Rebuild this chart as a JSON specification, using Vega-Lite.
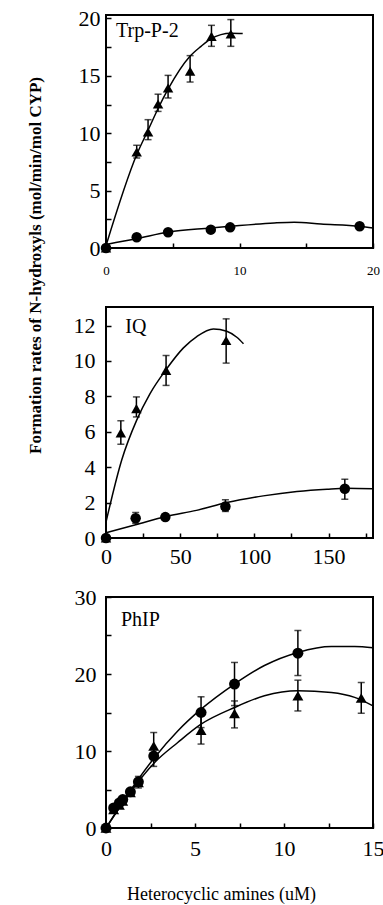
{
  "$schema": "https://vega.github.io/schema/vega-lite/v6.json",
  "background": "white",
  "padding": {"left": 24, "top": 6, "right": 5, "bottom": 3},
  "bounds": "flush",
  "spacing": 59,
  "config": {
    "font": "Liberation Serif",
    "view": {"stroke": "black", "strokeWidth": 2},
    "axis": {"domain": false, "grid": false, "tickColor": "black", "tickWidth": 1.5, "tickSize": -5, "labelColor": "black", "labelFont": "Liberation Serif", "titleColor": "black", "titleFont": "Liberation Serif", "labelFontSize": 22}
  },
  "datasets": {
    "trp_pts": [
      {"x": 0, "y": 0, "s": "triangle"},
      {"x": 2.3, "y": 8.36, "lo": 7.84, "hi": 8.95, "s": "triangle"},
      {"x": 3.15, "y": 10.1, "lo": 9.44, "hi": 11.18, "s": "triangle"},
      {"x": 3.9, "y": 12.54, "lo": 11.9, "hi": 13.4, "s": "triangle"},
      {"x": 4.65, "y": 13.94, "lo": 13.07, "hi": 15.04, "s": "triangle"},
      {"x": 6.3, "y": 15.4, "lo": 14.46, "hi": 16.76, "s": "triangle"},
      {"x": 7.9, "y": 18.44, "lo": 17.57, "hi": 19.4, "s": "triangle"},
      {"x": 9.35, "y": 18.64, "lo": 17.57, "hi": 19.9, "s": "triangle"},
      {"x": 0, "y": 0, "s": "circle"},
      {"x": 2.3, "y": 0.93, "s": "circle"},
      {"x": 4.65, "y": 1.37, "s": "circle"},
      {"x": 7.85, "y": 1.6, "s": "circle"},
      {"x": 9.3, "y": 1.8, "s": "circle"},
      {"x": 19.0, "y": 1.89, "s": "circle"}
    ],
    "trp_curve": [
      {"x": 0, "y": 0.2, "s": "triangle"},
      {"x": 2.32, "y": 8.19, "s": "triangle"},
      {"x": 3.17, "y": 10.31, "s": "triangle"},
      {"x": 3.92, "y": 12.2, "s": "triangle"},
      {"x": 4.67, "y": 13.88, "s": "triangle"},
      {"x": 6.29, "y": 16.7, "s": "triangle"},
      {"x": 7.12, "y": 17.57, "s": "triangle"},
      {"x": 7.87, "y": 18.24, "s": "triangle"},
      {"x": 8.61, "y": 18.59, "s": "triangle"},
      {"x": 9.36, "y": 18.7, "s": "triangle"},
      {"x": 10.24, "y": 18.68, "s": "triangle"},
      {"x": 0, "y": 0.3, "s": "circle"},
      {"x": 2.32, "y": 0.82, "s": "circle"},
      {"x": 4.67, "y": 1.4, "s": "circle"},
      {"x": 7.83, "y": 1.74, "s": "circle"},
      {"x": 9.31, "y": 1.89, "s": "circle"},
      {"x": 12.6, "y": 2.18, "s": "circle"},
      {"x": 14.1, "y": 2.24, "s": "circle"},
      {"x": 16.1, "y": 2.09, "s": "circle"},
      {"x": 19.03, "y": 1.89, "s": "circle"},
      {"x": 20, "y": 1.74, "s": "circle"}
    ],
    "iq_pts": [
      {"x": 0, "y": 0, "s": "triangle"},
      {"x": 10, "y": 5.94, "lo": 5.3, "hi": 6.62, "s": "triangle"},
      {"x": 20.5, "y": 7.31, "lo": 6.84, "hi": 7.97, "s": "triangle"},
      {"x": 40.5, "y": 9.47, "lo": 8.62, "hi": 10.31, "s": "triangle"},
      {"x": 81, "y": 11.16, "lo": 9.88, "hi": 12.38, "s": "triangle"},
      {"x": 0, "y": 0, "s": "circle"},
      {"x": 20, "y": 1.12, "lo": 0.84, "hi": 1.44, "s": "circle"},
      {"x": 40, "y": 1.18, "lo": 1.0, "hi": 1.35, "s": "circle"},
      {"x": 80.5, "y": 1.78, "lo": 1.5, "hi": 2.16, "s": "circle"},
      {"x": 161, "y": 2.78, "lo": 2.19, "hi": 3.32, "s": "circle"}
    ],
    "iq_curve": [
      {"x": 0, "y": 0.9, "s": "triangle"},
      {"x": 10.6, "y": 4.41, "s": "triangle"},
      {"x": 20.7, "y": 6.66, "s": "triangle"},
      {"x": 29.7, "y": 8.16, "s": "triangle"},
      {"x": 40.9, "y": 9.56, "s": "triangle"},
      {"x": 52.2, "y": 10.74, "s": "triangle"},
      {"x": 61.2, "y": 11.38, "s": "triangle"},
      {"x": 72.4, "y": 11.81, "s": "triangle"},
      {"x": 81.4, "y": 11.68, "s": "triangle"},
      {"x": 88.2, "y": 11.34, "s": "triangle"},
      {"x": 92.7, "y": 10.97, "s": "triangle"},
      {"x": 0, "y": 0.3, "s": "circle"},
      {"x": 20, "y": 0.75, "s": "circle"},
      {"x": 40.5, "y": 1.22, "s": "circle"},
      {"x": 61, "y": 1.56, "s": "circle"},
      {"x": 81.4, "y": 2.0, "s": "circle"},
      {"x": 106, "y": 2.38, "s": "circle"},
      {"x": 128.7, "y": 2.63, "s": "circle"},
      {"x": 149, "y": 2.76, "s": "circle"},
      {"x": 162, "y": 2.81, "s": "circle"},
      {"x": 180, "y": 2.78, "s": "circle"}
    ],
    "phip_pts": [
      {"x": 0, "y": 0, "s": "circle"},
      {"x": 0.43, "y": 2.6, "s": "circle"},
      {"x": 0.75, "y": 3.26, "s": "circle"},
      {"x": 0.94, "y": 3.7, "s": "circle"},
      {"x": 1.37, "y": 4.7, "s": "circle"},
      {"x": 1.82, "y": 6.0, "lo": 5.2, "hi": 6.7, "s": "circle"},
      {"x": 2.68, "y": 9.35, "lo": 8.0, "hi": 10.2, "s": "circle"},
      {"x": 5.34, "y": 15.0, "lo": 13.04, "hi": 17.04, "s": "circle"},
      {"x": 7.22, "y": 18.7, "lo": 15.9, "hi": 21.5, "s": "circle"},
      {"x": 10.78, "y": 22.7, "lo": 19.8, "hi": 25.65, "s": "circle"},
      {"x": 0, "y": 0, "s": "triangle"},
      {"x": 0.43, "y": 2.4, "s": "triangle"},
      {"x": 0.75, "y": 3.0, "s": "triangle"},
      {"x": 0.94, "y": 3.5, "s": "triangle"},
      {"x": 1.37, "y": 4.6, "s": "triangle"},
      {"x": 1.82, "y": 5.9, "s": "triangle"},
      {"x": 2.68, "y": 10.65, "lo": 8.9, "hi": 12.4, "s": "triangle"},
      {"x": 5.34, "y": 12.7, "lo": 10.9, "hi": 14.8, "s": "triangle"},
      {"x": 7.22, "y": 14.87, "lo": 13.0, "hi": 16.5, "s": "triangle"},
      {"x": 10.78, "y": 17.17, "lo": 15.2, "hi": 19.2, "s": "triangle"},
      {"x": 14.34, "y": 16.87, "lo": 14.9, "hi": 18.9, "s": "triangle"}
    ],
    "phip_curve": [
      {"x": 0, "y": 0, "s": "circle"},
      {"x": 1.41, "y": 5.0, "s": "circle"},
      {"x": 2.72, "y": 9.13, "s": "circle"},
      {"x": 4.03, "y": 12.6, "s": "circle"},
      {"x": 5.34, "y": 15.43, "s": "circle"},
      {"x": 7.22, "y": 18.7, "s": "circle"},
      {"x": 8.9, "y": 21.1, "s": "circle"},
      {"x": 10.78, "y": 22.8, "s": "circle"},
      {"x": 12.66, "y": 23.57, "s": "circle"},
      {"x": 13.97, "y": 23.57, "s": "circle"},
      {"x": 15, "y": 23.4, "s": "circle"},
      {"x": 0, "y": 0, "s": "triangle"},
      {"x": 1.41, "y": 4.78, "s": "triangle"},
      {"x": 2.72, "y": 8.48, "s": "triangle"},
      {"x": 4.03, "y": 11.1, "s": "triangle"},
      {"x": 5.34, "y": 13.48, "s": "triangle"},
      {"x": 7.22, "y": 15.65, "s": "triangle"},
      {"x": 8.9, "y": 17.17, "s": "triangle"},
      {"x": 10.78, "y": 17.83, "s": "triangle"},
      {"x": 12.66, "y": 17.6, "s": "triangle"},
      {"x": 13.97, "y": 16.96, "s": "triangle"},
      {"x": 15, "y": 15.87, "s": "triangle"}
    ]
  },
  "vconcat": [
    {
      "width": 267, "height": 233,
      "encoding": {
        "x": {"field": "x", "type": "quantitative", "scale": {"domain": [0, 20], "nice": false, "zero": false},
          "axis": {"title": null, "values": [0, 5, 10, 15, 20], "labelExpr": "datum.value % 10 === 0 ? datum.label : ''", "labelFontSize": 13, "labelPadding": 21, "labelFlush": false}},
        "y": {"field": "y", "type": "quantitative", "scale": {"domain": [0, 20.3], "nice": false, "zero": false},
          "axis": {"title": null, "values": [0, 2.5, 5, 7.5, 10, 12.5, 15, 17.5, 20], "labelExpr": "datum.value % 5 === 0 ? datum.label : ''", "labelPadding": 11}}
      },
      "layer": [
        {"data": {"name": "trp_curve"}, "mark": {"type": "line", "interpolate": "monotone", "color": "black", "strokeWidth": 1.5}, "encoding": {"detail": {"field": "s"}}},
        {"data": {"name": "trp_pts"}, "transform": [{"filter": "datum.lo != null"}], "mark": {"type": "errorbar", "color": "black", "thickness": 1.5, "ticks": {"size": 7}}, "encoding": {"y": {"field": "lo", "type": "quantitative"}, "y2": {"field": "hi"}}},
        {"data": {"name": "trp_pts"}, "mark": {"type": "point", "filled": true, "color": "black", "opacity": 1, "size": 110}, "encoding": {"shape": {"field": "s", "type": "nominal", "scale": {"domain": ["triangle", "circle"], "range": ["triangle-up", "circle"]}, "legend": null}}},
        {"data": {"values": [{"x": 0.75, "y": 18.9, "label": "Trp-P-2"}]}, "mark": {"type": "text", "align": "left", "baseline": "middle", "fontSize": 20, "color": "black"}, "encoding": {"text": {"field": "label"}}}
      ]
    },
    {
      "width": 267, "height": 231,
      "encoding": {
        "x": {"field": "x", "type": "quantitative", "scale": {"domain": [0, 180], "nice": false, "zero": false},
          "axis": {"title": null, "values": [0, 25, 50, 75, 100, 125, 150, 175], "labelExpr": "datum.value % 50 === 0 ? datum.label : ''", "labelPadding": 13, "labelFlush": false}},
        "y": {"field": "y", "type": "quantitative", "scale": {"domain": [0, 13.05], "nice": false, "zero": false},
          "axis": {"title": "Formation rates of N-hydroxyls (mol/min/mol CYP)", "values": [0, 2, 4, 6, 8, 10, 12], "labelPadding": 16,
            "titleFontSize": 17, "titleFontWeight": "bold", "titleAngle": 270, "titleX": -66, "titleY": -42, "titleBaseline": "alphabetic", "titleAlign": "center"}}
      },
      "layer": [
        {"data": {"name": "iq_curve"}, "mark": {"type": "line", "interpolate": "monotone", "color": "black", "strokeWidth": 1.5}, "encoding": {"detail": {"field": "s"}}},
        {"data": {"name": "iq_pts"}, "transform": [{"filter": "datum.lo != null"}], "mark": {"type": "errorbar", "color": "black", "thickness": 1.5, "ticks": {"size": 7}}, "encoding": {"y": {"field": "lo", "type": "quantitative"}, "y2": {"field": "hi"}}},
        {"data": {"name": "iq_pts"}, "mark": {"type": "point", "filled": true, "color": "black", "opacity": 1, "size": 110}, "encoding": {"shape": {"field": "s", "type": "nominal", "scale": {"domain": ["triangle", "circle"], "range": ["triangle-up", "circle"]}, "legend": null}}},
        {"data": {"values": [{"x": 13, "y": 11.9, "label": "IQ"}]}, "mark": {"type": "text", "align": "left", "baseline": "middle", "fontSize": 20, "color": "black"}, "encoding": {"text": {"field": "label"}}}
      ]
    },
    {
      "width": 267, "height": 231,
      "encoding": {
        "x": {"field": "x", "type": "quantitative", "scale": {"domain": [0, 15], "nice": false, "zero": false},
          "axis": {"title": "Heterocyclic amines (uM)", "values": [0, 2.5, 5, 7.5, 10, 12.5, 15], "labelExpr": "datum.value % 5 === 0 ? datum.label : ''", "labelPadding": 15, "labelFlush": false,
            "titleFontSize": 18, "titleFontWeight": "normal", "titleX": 115, "titleY": 66, "titleBaseline": "middle", "titleAlign": "center"}},
        "y": {"field": "y", "type": "quantitative", "scale": {"domain": [0, 30], "nice": false, "zero": false},
          "axis": {"title": null, "values": [0, 5, 10, 15, 20, 25, 30], "labelExpr": "datum.value % 10 === 0 ? datum.label : ''", "labelPadding": 15}}
      },
      "layer": [
        {"data": {"name": "phip_curve"}, "mark": {"type": "line", "interpolate": "monotone", "color": "black", "strokeWidth": 1.5}, "encoding": {"detail": {"field": "s"}}},
        {"data": {"name": "phip_pts"}, "transform": [{"filter": "datum.lo != null"}], "mark": {"type": "errorbar", "color": "black", "thickness": 1.5, "ticks": {"size": 7}}, "encoding": {"y": {"field": "lo", "type": "quantitative"}, "y2": {"field": "hi"}}},
        {"data": {"name": "phip_pts"}, "mark": {"type": "point", "filled": true, "color": "black", "opacity": 1, "size": 120}, "encoding": {"shape": {"field": "s", "type": "nominal", "scale": {"domain": ["triangle", "circle"], "range": ["triangle-up", "circle"]}, "legend": null}}},
        {"data": {"values": [{"x": 0.84, "y": 27.0, "label": "PhIP"}]}, "mark": {"type": "text", "align": "left", "baseline": "middle", "fontSize": 20, "color": "black"}, "encoding": {"text": {"field": "label"}}}
      ]
    }
  ]
}
